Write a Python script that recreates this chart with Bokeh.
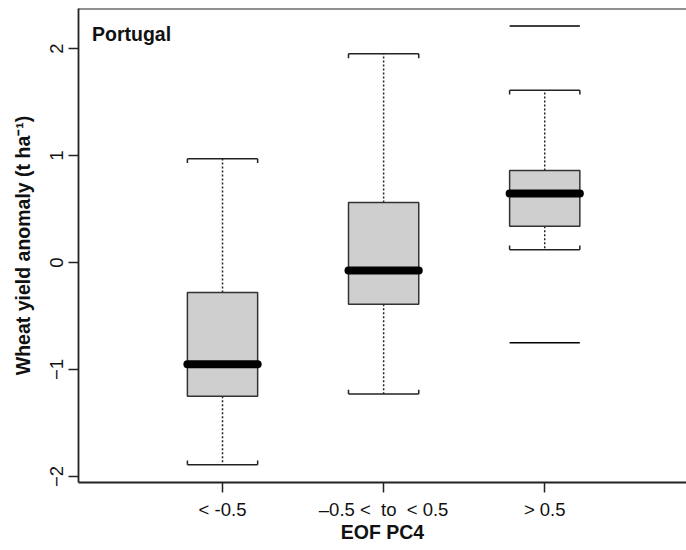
import math
from bokeh.plotting import figure
from bokeh.models import FixedTicker, Span, Label, ColumnDataSource, Range1d
from bokeh.embed import file_html
from bokeh.resources import INLINE

# ---- data ----
categories = ["< -0.5", "\u20130.5 <\u00a0 to\u00a0 < 0.5", "> 0.5"]
positions = [1, 2, 3]
lower_whisker = [-1.89, -1.23, 0.12]
q1 = [-1.25, -0.39, 0.34]
median = [-0.95, -0.075, 0.645]
q3 = [-0.28, 0.56, 0.86]
upper_whisker = [0.97, 1.95, 1.61]
outlier_pos = [3, 3]
outlier_val = [2.21, -0.75]
y_ticks = [-2, -1, 0, 1, 2]
y_tick_labels = ["\u22122", "\u22121", "0", "1", "2"]

FONT = "Liberation Sans"
half = 0.218
cap_tick = 0.04
y_start, y_end = -2.056, 2.374

p = figure(width=686, height=550, output_backend="svg", toolbar_location=None,
           x_range=Range1d(0.106, 3.88), y_range=Range1d(y_start, y_end),
           min_border_left=78, min_border_top=8, min_border_right=0, min_border_bottom=68)
p.outline_line_color = None
p.grid.visible = False
p.background_fill_color = "white"

src = ColumnDataSource(dict(
    x=positions, left=[x - half for x in positions], right=[x + half for x in positions],
    lo=lower_whisker, q1=q1, med=median, q3=q3, hi=upper_whisker,
    hi_t=[v - cap_tick for v in upper_whisker], lo_t=[v + cap_tick for v in lower_whisker]))

# whiskers (dotted)
p.segment(x0="x", y0="q3", x1="x", y1="hi", source=src, line_color="#222222", line_width=1.5, line_dash="2 2")
p.segment(x0="x", y0="q1", x1="x", y1="lo", source=src, line_color="#222222", line_width=1.5, line_dash="2 2")
# caps
p.segment(x0="left", y0="hi", x1="right", y1="hi", source=src, line_color="#222222", line_width=1.5)
p.segment(x0="left", y0="lo", x1="right", y1="lo", source=src, line_color="#222222", line_width=1.5)
for side in ["left", "right"]:
    p.segment(x0=side, y0="hi", x1=side, y1="hi_t", source=src, line_color="#222222", line_width=1.5)
    p.segment(x0=side, y0="lo", x1=side, y1="lo_t", source=src, line_color="#222222", line_width=1.5)
# boxes
p.quad(left="left", right="right", bottom="q1", top="q3", source=src,
       fill_color="#cfcfcf", line_color="#333333", line_width=1.5)
# medians
p.segment(x0="left", y0="med", x1="right", y1="med", source=src, line_color="black",
          line_width=8, line_cap="round")
# outliers as lines
p.segment(x0=[x - half for x in outlier_pos], y0=outlier_val, x1=[x + half for x in outlier_pos],
          y1=outlier_val, line_color="black", line_width=1.5)

# top frame line
p.add_layout(Span(location=y_end, dimension="width", line_color="#222222", line_width=2))

# axes
p.xaxis.ticker = FixedTicker(ticks=positions)
p.xaxis.major_label_overrides = {pos: lab for pos, lab in zip(positions, categories)}
p.yaxis.ticker = FixedTicker(ticks=y_ticks)
p.yaxis.major_label_overrides = {t: l for t, l in zip(y_ticks, y_tick_labels)}
p.yaxis.major_label_orientation = "vertical"
for ax in (p.xaxis, p.yaxis):
    ax.axis_line_color = "#222222"
    ax.axis_line_width = 1.8
    ax.major_tick_line_color = "#222222"
    ax.major_tick_line_width = 1.5
    ax.major_tick_out = 10
    ax.major_tick_in = 0
    ax.minor_tick_line_color = None
    ax.major_label_text_font = FONT
    ax.major_label_text_font_size = "18.5px"
    ax.major_label_text_color = "#111111"
    ax.axis_label_text_font = FONT
    ax.axis_label_text_font_style = "bold"
    ax.axis_label_text_font_size = "19.5px"
    ax.axis_label_text_color = "#111111"
p.xaxis.major_label_standoff = 6
p.xaxis.axis_label_standoff = -2
p.yaxis.major_label_standoff = 5
p.yaxis.axis_label_standoff = 14
p.xaxis.axis_label = "EOF PC4"
p.yaxis.axis_label = "Wheat yield anomaly (t ha\u207b\u00b9)"

p.add_layout(Label(x=0.19, y=2.24, text="Portugal", text_font=FONT, text_font_style="bold",
                   text_font_size="19.5px", text_baseline="top", text_color="#111111"))

open("out.html", "w").write(file_html(p, INLINE))
